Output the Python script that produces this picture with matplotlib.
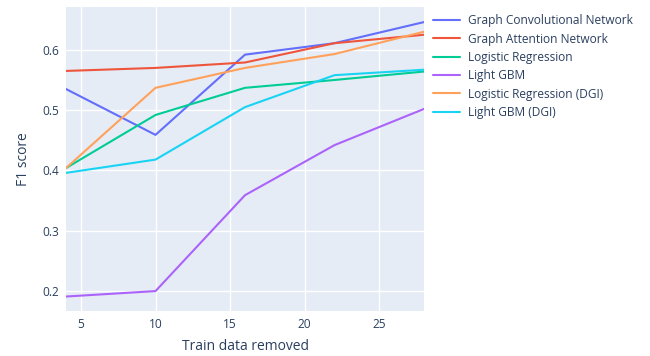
import matplotlib
matplotlib.use("Agg")
import matplotlib.pyplot as plt

x_vals = [4, 10, 16, 22, 28]
series_names = [
    "Graph Convolutional Network",
    "Graph Attention Network",
    "Logistic Regression",
    "Light GBM",
    "Logistic Regression (DGI)",
    "Light GBM (DGI)",
]
gcn = [0.535, 0.459, 0.592, 0.611, 0.646]
gat = [0.565, 0.570, 0.579, 0.611, 0.625]
lr = [0.404, 0.492, 0.537, 0.550, 0.564]
lgbm = [0.191, 0.200, 0.359, 0.442, 0.502]
lr_dgi = [0.404, 0.537, 0.570, 0.593, 0.630]
lgbm_dgi = [0.396, 0.418, 0.505, 0.558, 0.567]
series_values = [gcn, gat, lr, lgbm, lr_dgi, lgbm_dgi]
colors = ["#636efa", "#EF553B", "#00cc96", "#ab63fa", "#FFA15A", "#19d3f3"]
x_ticks = [5, 10, 15, 20, 25]
y_ticks = [0.2, 0.3, 0.4, 0.5, 0.6]

plt.rcParams['font.family'] = ['Open Sans', 'DejaVu Sans']
text_color = "#2a3f5f"

fig = plt.figure(figsize=(6.5, 3.56), dpi=100)
ax = fig.add_axes([66/650, 1-311/356, (424-66)/650, (311-7)/356])
ax.set_facecolor("#E5ECF6")
for name, vals, c in zip(series_names, series_values, colors):
    ax.plot(x_vals, vals, color=c, linewidth=1.5, label=name, solid_capstyle='round')

ax.set_xlim(4, 28)
ax.set_ylim(0.167, 0.671)
ax.set_xticks(x_ticks)
ax.set_yticks(y_ticks)
ax.set_yticklabels([f"{v:.1f}" for v in y_ticks])
ax.grid(True, color="white", linewidth=1)
ax.set_axisbelow(True)
for s in ax.spines.values():
    s.set_visible(False)
ax.tick_params(length=0, labelsize=8.6, colors=text_color, pad=5)
ax.set_xlabel("Train data removed", fontsize=10, color=text_color, labelpad=6)
ax.set_ylabel("F1 score", fontsize=10, color=text_color, labelpad=8)

leg = ax.legend(loc="upper left", bbox_to_anchor=(1.005, 1.0), frameon=False,
                fontsize=8.6, handlelength=2.3, handletextpad=0.6,
                labelspacing=0.45, borderaxespad=0.2)
for t in leg.get_texts():
    t.set_color(text_color)

fig.savefig("out.png", dpi=100)
